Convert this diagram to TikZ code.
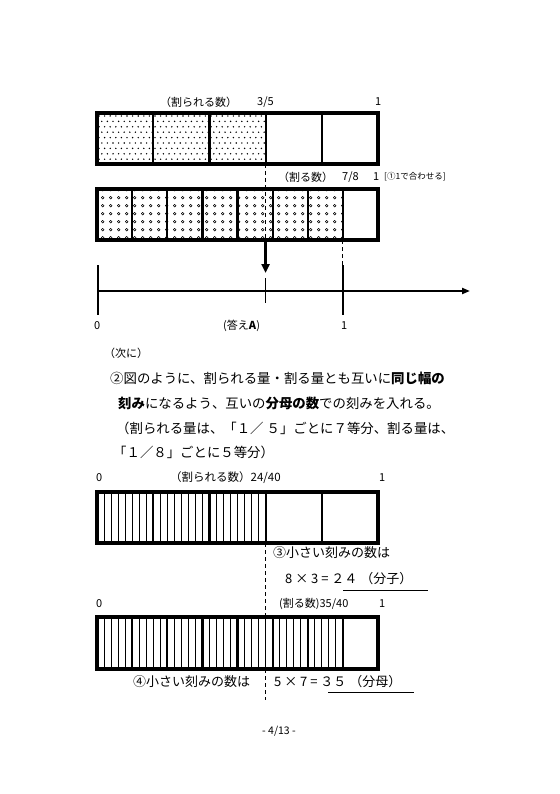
\documentclass[tikz,border=0pt]{standalone}
\usepackage{fontspec}
\setmainfont{Noto Sans CJK JP}
\usetikzlibrary{arrows.meta}
\tikzset{
  outer/.style={line width=3.2pt},
  divider/.style={line width=2.2pt},
  stripe/.style={line width=0.8pt},
  guide/.style={line width=0.9pt, dash pattern=on 4pt off 3pt},
  lbl/.style={inner sep=0pt, anchor=west, font=\fontsize{11}{13}\selectfont},
  txt/.style={inner sep=0pt, anchor=west, font=\fontsize{13.4}{16}\selectfont},
  small/.style={inner sep=0pt, anchor=west, font=\fontsize{8.5}{10}\selectfont},
}
\begin{document}
\begin{tikzpicture}[x=1pt,y=-1pt]
\useasboundingbox (0,0) rectangle (559,794);
\fill[white] (0,0) rectangle (559,794);

% ---------- Box 1 ----------
\coordinate (b1tl) at (97,113);
\coordinate (b1br) at (378,164);
\begin{scope}
  \clip (97,113) rectangle (265.6,164);
  \foreach \j in {0,...,9}{
    \foreach \i in {0,...,30}{
      \pgfmathsetmacro{\xx}{99+\i*5.6+mod(\j,2)*2.8}
      \pgfmathsetmacro{\yy}{116+\j*5.4}
      \fill (\xx,\yy) circle (0.8);
    }
  }
\end{scope}
\foreach \xx in {153.2,209.4,265.6,321.8}{\draw[divider] (\xx,113) -- (\xx,164);}
\draw[outer] (b1tl) rectangle (b1br);

\node[lbl] (l1a) at (160,102) {（割られる数）};
\node[lbl] (l1b) at (257,102) {3/5};
\node[lbl] (l1c) at (375,102) {1};

% ---------- Box 2 ----------
\coordinate (b2tl) at (97,189);
\coordinate (b2br) at (378,240);
\begin{scope}
  \clip (97,189) rectangle (342.9,240);
  \foreach \j in {0,...,6}{
    \foreach \i in {0,...,31}{
      \pgfmathsetmacro{\xx}{102.7+\i*8}
      \pgfmathsetmacro{\yy}{189.7+\j*8}
      \draw[line width=0.55pt] (\xx,\yy) circle (1.3);
    }
  }
\end{scope}
\foreach \xx in {132.1,167.25,202.4,237.5,272.6,307.75,342.9}{\draw[divider] (\xx,189) -- (\xx,240);}
\draw[outer] (b2tl) rectangle (b2br);

\node[lbl] (l2a) at (278,177) {（割る数）};
\node[lbl] (l2b) at (342,177) {7/8};
\node[lbl] (l2c) at (373,177) {1};
\node[small] (l2d) at (384,177) {[①1で合わせる]};

% guides
\coordinate (g1a) at (265.6,164);
\coordinate (g1b) at (265.6,240);
\draw[guide] (g1a) -- (g1b);
\coordinate (ans) at (265.6,273);
\draw[line width=2.8pt, -{Triangle[length=9pt,width=8pt]}] (g1b) -- (ans);
\coordinate (g2a) at (342.9,240);
\coordinate (g2b) at (342.9,265);
\draw[guide] (g2a) -- (g2b);

% ---------- Number line ----------
\coordinate (n0) at (98,291);
\coordinate (nend) at (470,291);
\draw[line width=2.2pt, -{Triangle[length=8pt,width=6pt]}] (n0) -- (nend);
\draw[line width=2.4pt] (98,265) -- (98,315);
\draw[line width=2.4pt] (342.9,265) -- (342.9,315);
\draw[line width=1.6pt] (265.6,278) -- (265.6,303);
\node[lbl] (n0l) at (94,326) {0};
\node[lbl] (nAl) at (223,326) {(答え\textbf{A})};
\node[lbl] (n1l) at (341,326) {1};
\node[lbl] (next) at (104,353) {（次に）};

% ---------- Paragraph ----------
\node[txt] (p1) at (110,378) {②図のように、割られる量・割る量とも互いに\textbf{同じ幅の}};
\node[txt] (p2) at (118,403) {\textbf{刻み}になるよう、互いの\textbf{分母の数}での刻みを入れる。};
\node[txt] (p3) at (116,428) {（割られる量は、「１／ ５」ごとに７等分、割る量は、};
\node[txt] (p4) at (113,452) {「１／８」ごとに５等分）};

% ---------- Box 3 ----------
\coordinate (b3tl) at (97,492);
\coordinate (b3br) at (378,543);
\foreach \k in {1,...,23}{
  \pgfmathsetmacro{\xx}{97+\k*7.025}
  \draw[stripe] (\xx,492) -- (\xx,543);
}
\foreach \xx in {153.2,209.4,265.6,321.8}{\draw[divider] (\xx,492) -- (\xx,543);}
\draw[outer] (b3tl) rectangle (b3br);
\node[lbl] (l3a) at (96,478) {0};
\node[lbl, font=\fontsize{11.5}{13}\selectfont] (l3b) at (170,478) {（割られる数）24/40};
\node[lbl] (l3c) at (379,478) {1};

\coordinate (g3a) at (265.6,543);
\coordinate (g3b) at (265.6,700);
\draw[guide] (g3a) -- (g3b);

\node[txt, font=\fontsize{13}{15}\selectfont] (s3a) at (273,553) {③小さい刻みの数は};
\node[txt, font=\fontsize{13}{15}\selectfont] (s3b) at (285,579) {8 × 3 = ２４ （分子）};
\draw[line width=0.8pt] (343,590) -- (428,590);

% ---------- Box 4 ----------
\coordinate (b4tl) at (97,617);
\coordinate (b4br) at (378,669);
\foreach \k in {1,...,34}{
  \pgfmathsetmacro{\xx}{97+\k*7.025}
  \draw[stripe] (\xx,617) -- (\xx,669);
}
\foreach \xx in {132.1,167.25,202.4,237.5,272.6,307.75,342.9}{\draw[divider] (\xx,617) -- (\xx,669);}
\draw[outer] (b4tl) rectangle (b4br);
\node[lbl] (l4a) at (96,604) {0};
\node[lbl] (l4b) at (279,604) {(割る数)35/40};
\node[lbl] (l4c) at (379,604) {1};

\node[txt, font=\fontsize{13}{15}\selectfont] (s4a) at (133,682) {④小さい刻みの数は};
\node[txt, font=\fontsize{13}{15}\selectfont] (s4b) at (274,682) {5 × 7 = ３５ （分母）};
\draw[line width=0.8pt] (328,692) -- (414,692);

% page number
\node[inner sep=0pt, font=\fontsize{10.5}{12}\selectfont] (pg) at (279,731) {- 4/13 -};
\end{tikzpicture}
\end{document}
